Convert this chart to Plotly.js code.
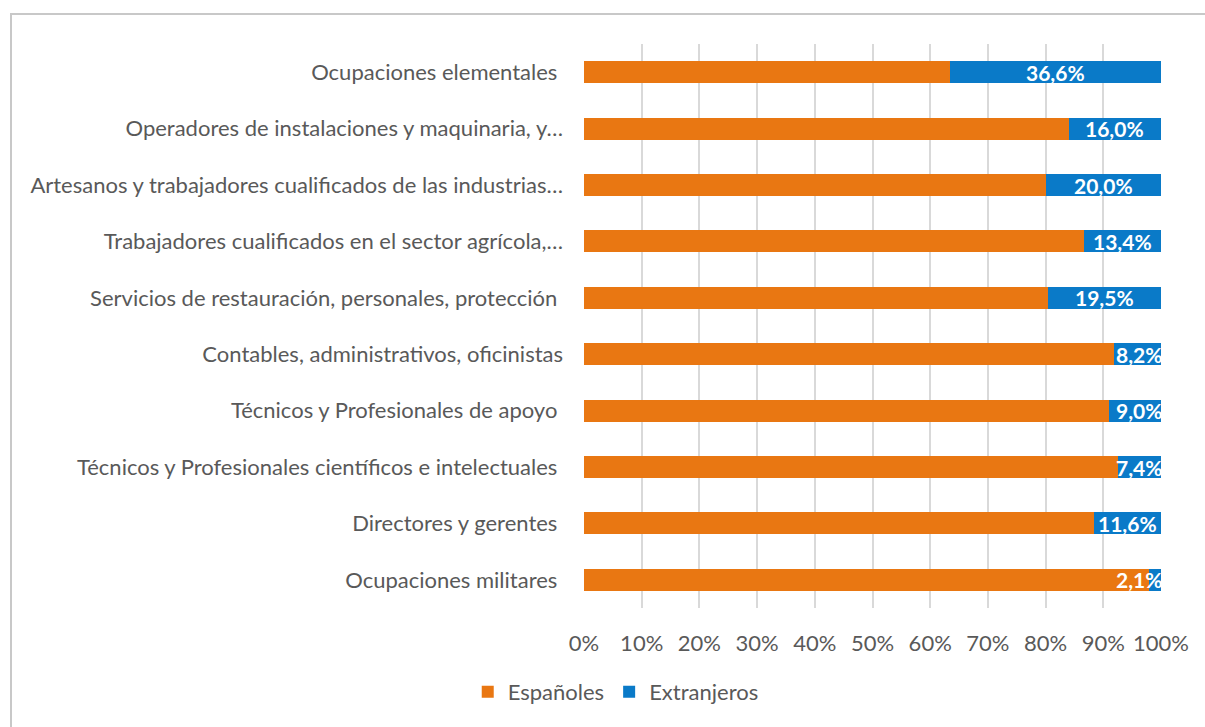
<!DOCTYPE html>
<html>
<head>
<meta charset="utf-8">
<script src="https://cdn.plot.ly/plotly-3.0.1.min.js"></script>
<style>
html,body{margin:0;padding:0;background:#fff;overflow:hidden;}
#frame{position:absolute;left:10px;top:13px;width:1400px;height:900px;border:2px solid #c8c8c8;box-sizing:border-box;}
#chart{position:absolute;left:0;top:0;width:1205px;height:727px;}
</style>
</head>
<body>
<div id="frame"></div>
<div id="chart"></div>
<script>
const categories = [
  "Ocupaciones militares ",
  "Directores y gerentes ",
  "Técnicos y Profesionales científicos e intelectuales ",
  "Técnicos y Profesionales de apoyo ",
  "Contables, administrativos, oficinistas",
  "Servicios de restauración, personales, protección ",
  "Trabajadores cualificados en el sector agrícola,…",
  "Artesanos y trabajadores cualificados de las industrias…",
  "Operadores de instalaciones y maquinaria, y…",
  "Ocupaciones elementales "
];
const extranjeros = [2.1, 11.6, 7.4, 9.0, 8.2, 19.5, 13.4, 20.0, 16.0, 36.6];
const espanoles = extranjeros.map(v => +(100 - v).toFixed(1));
const tickVals = [0,10,20,30,40,50,60,70,80,90,100];
const tickText = ["0%","10%","20%","30%","40%","50%","60%","70%","80%","90%","100%"];

const FONT = "Lato, 'Open Sans', sans-serif";
const fmt = v => v.toFixed(1).replace('.', ',') + '%';

const traces = [
  {
    type: 'bar', orientation: 'h', name: 'Españoles',
    y: categories, x: espanoles,
    marker: {color: '#E97712'},
    hoverinfo: 'none'
  },
  {
    type: 'bar', orientation: 'h', name: 'Extranjeros',
    y: categories, x: extranjeros,
    marker: {color: '#0A7AC8'},
    hoverinfo: 'none'
  }
];

// data labels for Extranjeros: centred in segment, or pushed against bar end when too narrow
const annotations = categories.map((c, i) => {
  const narrow = extranjeros[i] < 10;
  return {
    xref: 'x', yref: 'y', y: c,
    x: narrow ? 100 : espanoles[i] + extranjeros[i] / 2,
    xanchor: narrow ? 'right' : 'center', yanchor: 'middle',
    text: fmt(extranjeros[i]), showarrow: false,
    font: {family: FONT, size: 21, color: '#ffffff', weight: 'bold'},
    xshift: narrow ? 3 : 0
  };
});

const layout = {
  width: 1205, height: 727,
  paper_bgcolor: 'rgba(0,0,0,0)',
  plot_bgcolor: 'rgba(0,0,0,0)',
  barmode: 'stack',
  bargap: 0.61,
  margin: {l: 584, r: 44, t: 44, b: 119},
  font: {family: FONT, color: '#595959', size: 22},
  annotations: annotations,
  xaxis: {
    range: [0, 100],
    tickvals: tickVals, ticktext: tickText,
    showgrid: true, gridcolor: '#d9d9d9', gridwidth: 2,
    zeroline: false, showline: false,
    ticks: '', ticklabelstandoff: 20,
    tickfont: {family: FONT, size: 22, color: '#595959'},
    fixedrange: true
  },
  yaxis: {
    categoryorder: 'array', categoryarray: categories,
    showgrid: false, zeroline: false, showline: false,
    ticks: '', ticklabelstandoff: 20,
    tickfont: {family: FONT, size: 22, color: '#595959'},
    fixedrange: true
  },
  showlegend: true,
  legend: {
    orientation: 'h', x: 0.055, xanchor: 'center', y: -0.149, yanchor: 'middle',
    font: {family: FONT, size: 22, color: '#595959'},
    traceorder: 'normal', itemwidth: 30
  }
};

Plotly.newPlot('chart', traces, layout, {staticPlot: true, displayModeBar: false});
</script>
</body>
</html>
